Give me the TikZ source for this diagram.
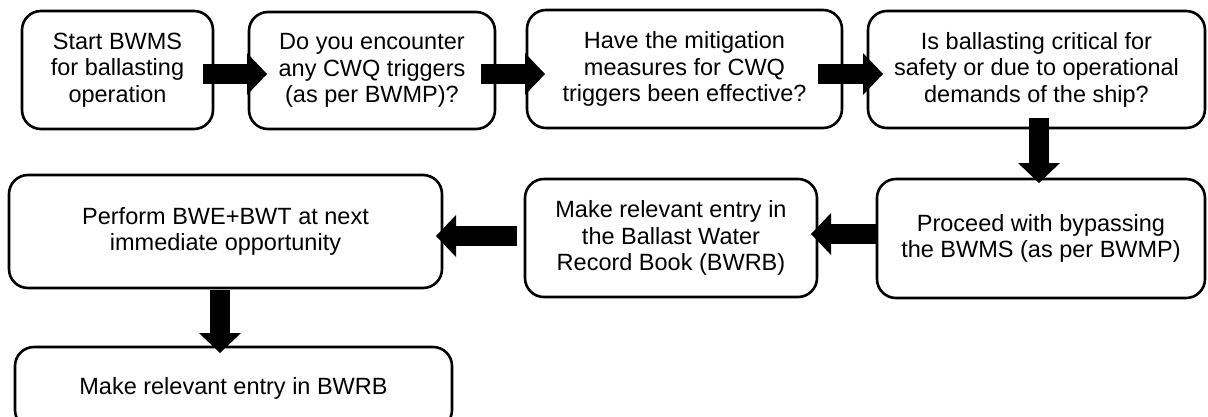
\documentclass[tikz,border=0pt]{standalone}
\usepackage{fontspec}
\setmainfont{Liberation Sans}
\usetikzlibrary{arrows.meta,calc}
\tikzset{
  flowbox/.style={draw=black, line width=2.6pt, rounded corners=19pt, fill=white,
    inner sep=0pt, outer sep=0pt, align=center, text=black,
    font=\fontsize{23.5}{26.5}\selectfont},
  blockarrow/.style={draw=black, line width=20pt,
    -{Triangle[width=42pt,length=20pt,line width=0pt]}}
}
\begin{document}
\begin{tikzpicture}[x=1pt,y=-1pt]
\useasboundingbox (0,0) rectangle (1208,416);
\fill[white] (0,0) rectangle (1208,416);
\clip (0,0) rectangle (1208,416);

\node[flowbox, minimum width=191pt, minimum height=118pt] (b1) at (117.5,70)
  {Start BWMS\\for ballasting\\operation};
\node[flowbox, minimum width=246pt, minimum height=117pt] (b2) at (372,70.5)
  {Do you encounter\\any CWQ triggers\\(as per BWMP)?};
\node[flowbox, minimum width=315pt, minimum height=118pt] (b3) at (684.5,69)
  {Have the mitigation\\measures for CWQ\\triggers been effective?};
\node[flowbox, minimum width=337pt, minimum height=117pt] (b4) at (1036.5,69.5)
  {Is ballasting critical for\\safety or due to operational\\demands of the ship?};
\node[flowbox, minimum width=328pt, minimum height=119pt] (b5) at (1041,238.5)
  {Proceed with bypassing\\the BWMS (as per BWMP)};
\node[flowbox, minimum width=292pt, minimum height=118pt] (b6) at (671,238)
  {Make relevant entry in\\the Ballast Water\\Record Book (BWRB)};
\node[flowbox, minimum width=433pt, minimum height=113pt] (b7) at (225.5,231.5)
  {Perform BWE+BWT at next\\immediate opportunity};
\node[flowbox, minimum width=437pt, minimum height=82pt] (b8) at (233.5,388)
  {Make relevant entry in BWRB};

\draw[blockarrow] ($(b1.east)+(-10,4)$) -- ($(b2.west)+(18,3.5)$);
\draw[blockarrow] ($(b2.east)+(-14,3.5)$) -- ($(b3.west)+(18,5)$);
\draw[blockarrow] ($(b3.east)+(-24,5)$) -- ($(b4.west)+(15,4.5)$);
\draw[blockarrow] ($(b4.south)+(2.5,-10)$) -- ($(b5.north)+(-2,4)$);
\draw[blockarrow] ($(b5.west)+(0,-4.5)$) -- ($(b6.east)+(-6,-4)$);
\draw[blockarrow] ($(b6.west)+(-8,-2)$) -- ($(b7.east)+(-6,4.5)$);
\draw[blockarrow] ($(b7.south)+(-5.5,2)$) -- ($(b8.north)+(-13.5,6)$);
\end{tikzpicture}
\end{document}
